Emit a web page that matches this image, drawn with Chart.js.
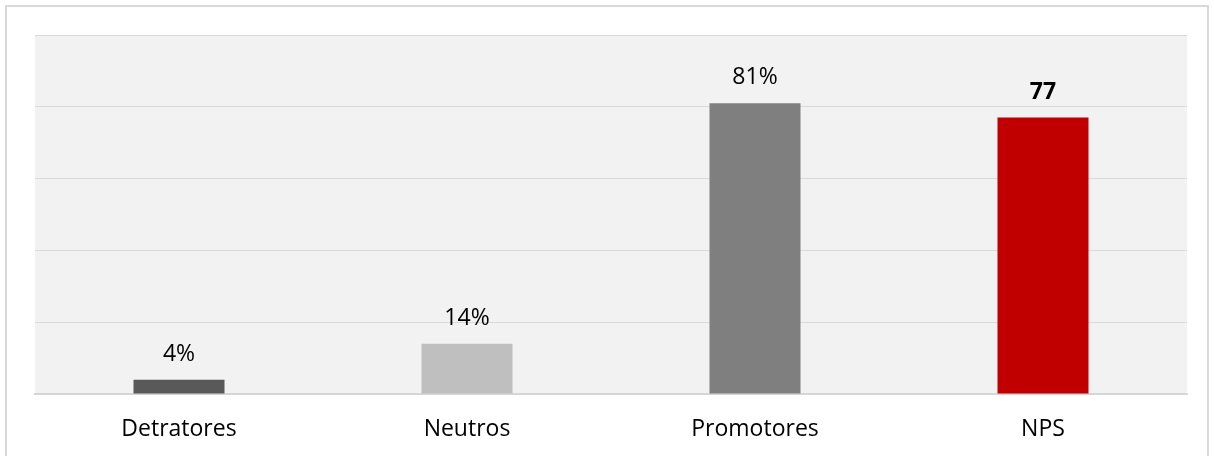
<!DOCTYPE html>
<html>
<head>
<meta charset="utf-8">
<script src="https://cdn.jsdelivr.net/npm/chart.js@4.4.1/dist/chart.umd.min.js"></script>
<style>
  html, body { margin: 0; padding: 0; background: #fff; }
  #wrap { position: relative; width: 1214px; height: 456px; overflow: hidden; }
  #frame { position: absolute; left: 5px; top: 5px; width: 1200px; height: 470px; border: 2px solid #d9d9d9; }
  #npsChart { position: absolute; left: 0; top: 0; }
</style>
</head>
<body>
<div id="wrap">
  <div id="frame"></div>
  <canvas id="npsChart" width="1214" height="456"></canvas>
</div>
<script>
'use strict';

var categories = ['Detratores', 'Neutros', 'Promotores', 'NPS'];
var values = [4, 14, 81, 77];
var valueLabels = ['4%', '14%', '81%', '77'];
var boldLabels = [false, false, false, true];
var barColors = ['#595959', '#bfbfbf', '#7f7f7f', '#c00000'];
var yMax = 100;
var yStep = 20;

var fontFamily = "'Open Sans', sans-serif";
var fontSize = 23;

// grey plot background behind the bars
var plotBackground = {
  id: 'plotBackground',
  beforeDraw: function (chart) {
    var a = chart.chartArea;
    var ctx = chart.ctx;
    ctx.save();
    ctx.fillStyle = '#f2f2f2';
    ctx.fillRect(a.left, a.top, a.right - a.left, a.bottom - a.top);
    ctx.restore();
  }
};

// value text above each bar
var barValues = {
  id: 'barValues',
  afterDatasetsDraw: function (chart) {
    var ctx = chart.ctx;
    var meta = chart.getDatasetMeta(0);
    ctx.save();
    ctx.textAlign = 'center';
    ctx.textBaseline = 'alphabetic';
    ctx.fillStyle = '#000';
    meta.data.forEach(function (bar, i) {
      ctx.font = (boldLabels[i] ? 'bold ' : '') + fontSize + 'px ' + fontFamily;
      ctx.fillText(valueLabels[i], bar.x, bar.y - 19);
    });
    ctx.restore();
  }
};

var ctx = document.getElementById('npsChart');

var myChart = new Chart(ctx, {
  type: 'bar',
  data: {
    labels: categories,
    datasets: [{
      data: values,
      backgroundColor: barColors,
      borderWidth: 0,
      categoryPercentage: 1,
      barPercentage: 0.316
    }]
  },
  options: {
    responsive: false,
    animation: false,
    devicePixelRatio: 1,
    layout: {
      padding: { left: 35, right: 27, top: 35, bottom: 16 }
    },
    plugins: {
      legend: { display: false },
      tooltip: { enabled: false }
    },
    scales: {
      x: {
        grid: { display: false, drawTicks: false },
        border: { display: true, color: '#d6d6d6', width: 2 },
        ticks: {
          color: '#000',
          padding: 22,
          font: { family: fontFamily, size: fontSize }
        },
        afterFit: function (scale) {
          scale.height = 46;
        }
      },
      y: {
        min: 0,
        max: yMax,
        ticks: { display: false, stepSize: yStep },
        border: { display: false },
        grid: { color: '#d9d9d9', lineWidth: 1, drawTicks: false }
      }
    }
  },
  plugins: [plotBackground, barValues]
});
</script>
</body>
</html>
